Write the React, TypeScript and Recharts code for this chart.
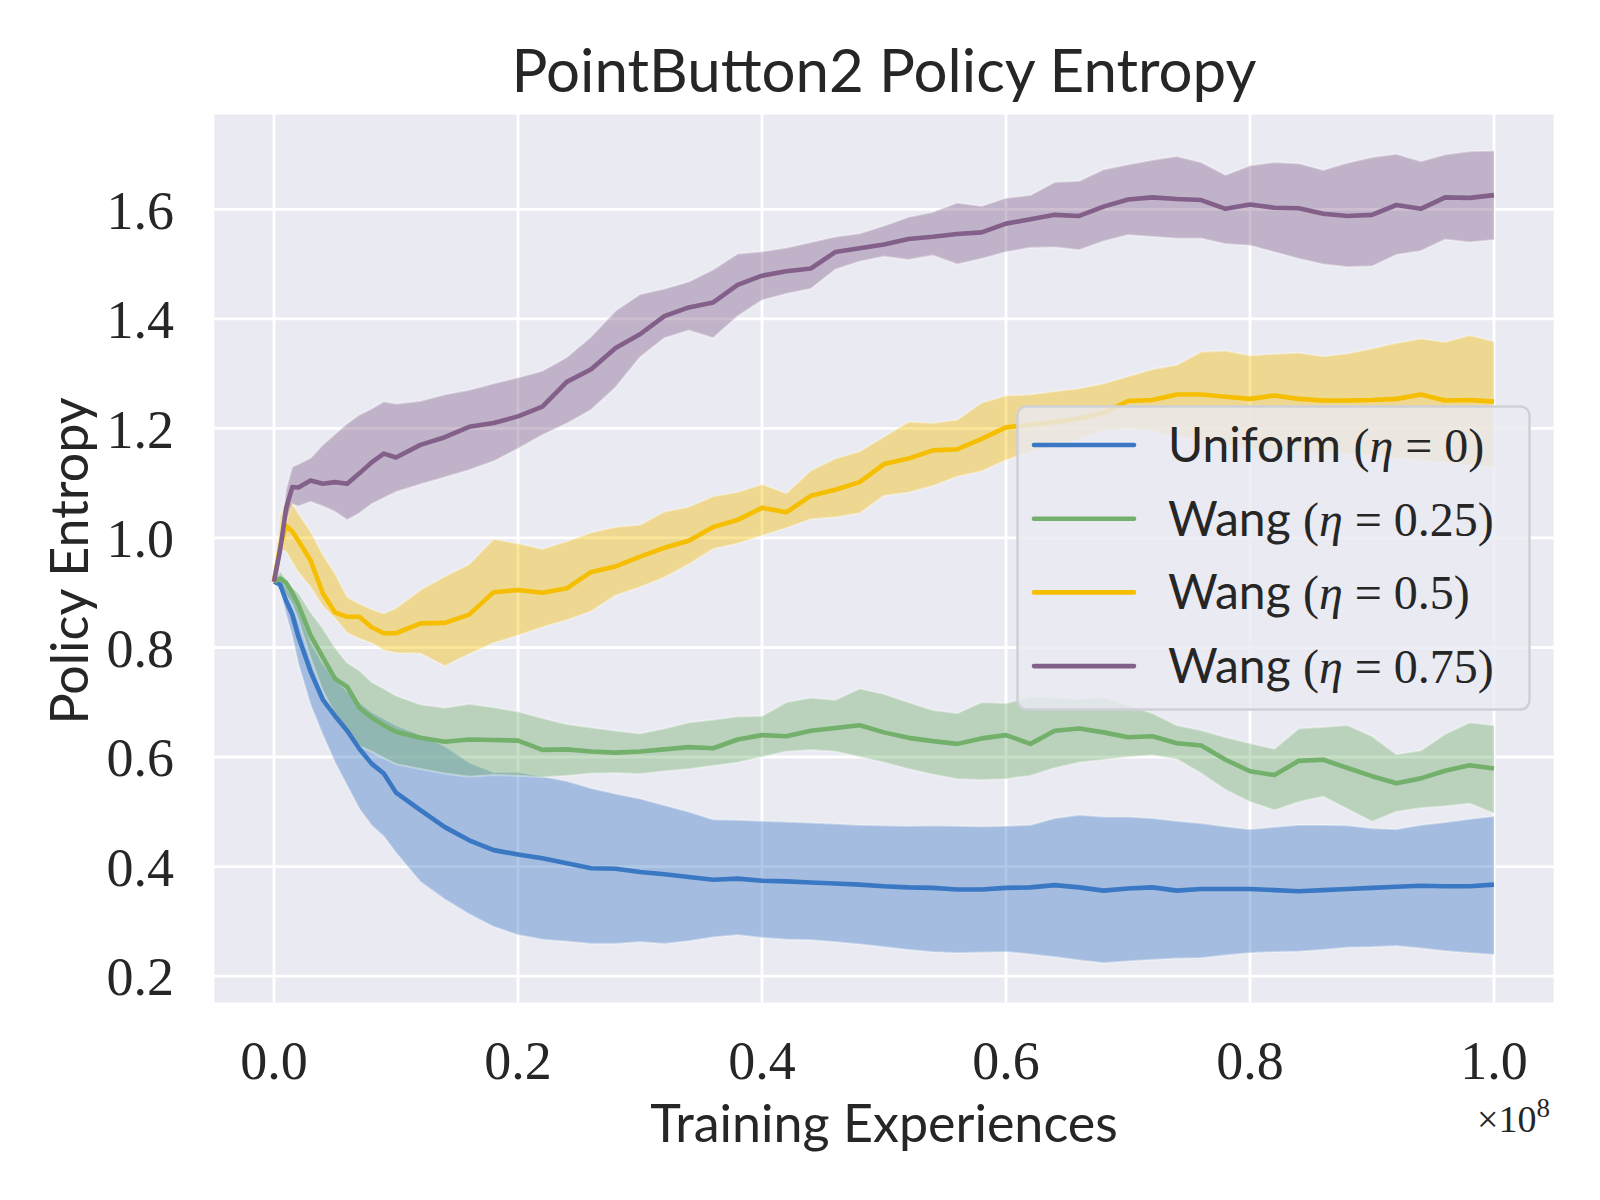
import { ComposedChart, Area, Line, XAxis, YAxis, CartesianGrid } from "recharts";

// training experiences (x 1e8)
const steps = [
  0, 0.005, 0.01, 0.015, 0.02, 0.03, 0.04, 0.05, 0.06, 0.07, 0.08, 0.09, 0.1,
  0.12, 0.14, 0.16, 0.18, 0.2, 0.22, 0.24, 0.26, 0.28, 0.3, 0.32, 0.34, 0.36, 0.38,
  0.4, 0.42, 0.44, 0.46, 0.48, 0.5, 0.52, 0.54, 0.56, 0.58, 0.6, 0.62, 0.64, 0.66,
  0.68, 0.7, 0.72, 0.74, 0.76, 0.78, 0.8, 0.82, 0.84, 0.86, 0.88, 0.9, 0.92, 0.94,
  0.96, 0.98, 1.0,
];

const uniformMean = [
  0.92, 0.915, 0.885, 0.86, 0.82, 0.756, 0.705, 0.675, 0.648, 0.615, 0.588, 0.57, 0.535,
  0.503, 0.472, 0.448, 0.43, 0.422, 0.415, 0.406, 0.397, 0.396, 0.39, 0.386, 0.381, 0.376, 0.378,
  0.374, 0.373, 0.371, 0.369, 0.367, 0.364, 0.362, 0.361, 0.358, 0.358, 0.361, 0.362, 0.366, 0.362,
  0.356, 0.36, 0.362, 0.356, 0.359, 0.359, 0.359, 0.357, 0.355, 0.357, 0.359, 0.361, 0.363, 0.365,
  0.364, 0.364, 0.367,
];
const uniformHigh = [
  0.92, 0.925, 0.91, 0.895, 0.87, 0.81, 0.77, 0.742, 0.72, 0.7, 0.682, 0.67, 0.658,
  0.64, 0.62, 0.59, 0.572, 0.572, 0.565, 0.556, 0.543, 0.533, 0.524, 0.512, 0.5, 0.486, 0.485,
  0.483, 0.482, 0.48, 0.478, 0.476, 0.475, 0.474, 0.475, 0.474, 0.473, 0.474, 0.476, 0.488, 0.494,
  0.491, 0.491, 0.488, 0.483, 0.479, 0.473, 0.468, 0.472, 0.476, 0.476, 0.475, 0.47, 0.468, 0.476,
  0.481, 0.487, 0.492,
];
const uniformLow = [
  0.92, 0.905, 0.86, 0.82, 0.77, 0.695, 0.64, 0.59, 0.547, 0.505, 0.475, 0.455, 0.425,
  0.372, 0.34, 0.313, 0.29, 0.275, 0.267, 0.263, 0.259, 0.259, 0.262, 0.259, 0.264, 0.271, 0.275,
  0.27, 0.267, 0.266, 0.262, 0.258, 0.253, 0.248, 0.244, 0.242, 0.243, 0.244, 0.24, 0.235, 0.229,
  0.224, 0.227, 0.23, 0.232, 0.233, 0.238, 0.242, 0.244, 0.245, 0.248, 0.252, 0.253, 0.255, 0.251,
  0.246, 0.242, 0.239,
];

const wang25Mean = [
  0.92, 0.926, 0.918, 0.9, 0.878, 0.822, 0.782, 0.743, 0.728, 0.69, 0.672, 0.658, 0.646,
  0.635, 0.628, 0.632, 0.631, 0.63, 0.613, 0.614, 0.61, 0.608, 0.61, 0.614, 0.618, 0.616, 0.632,
  0.64, 0.638, 0.648, 0.653, 0.658, 0.645, 0.635, 0.629, 0.624, 0.634, 0.64, 0.624, 0.648, 0.652,
  0.645, 0.636, 0.638, 0.625, 0.621, 0.595, 0.574, 0.567, 0.593, 0.595, 0.58, 0.565, 0.552, 0.561,
  0.575, 0.585, 0.579,
];
const wang25High = [
  0.92, 0.94, 0.925, 0.91, 0.9, 0.865, 0.835, 0.8, 0.772, 0.758, 0.737, 0.725, 0.712,
  0.696, 0.69, 0.697, 0.691, 0.683, 0.671, 0.66, 0.654, 0.648, 0.643, 0.652, 0.663, 0.668, 0.674,
  0.675, 0.7, 0.708, 0.704, 0.725, 0.715, 0.7, 0.686, 0.68, 0.7, 0.698, 0.71, 0.708, 0.706,
  0.709, 0.695, 0.68, 0.658, 0.649, 0.636, 0.625, 0.615, 0.652, 0.655, 0.658, 0.638, 0.605, 0.612,
  0.642, 0.663, 0.658,
];
const wang25Low = [
  0.92, 0.915, 0.895, 0.878, 0.85, 0.78, 0.72, 0.678, 0.65, 0.62, 0.61, 0.598, 0.587,
  0.578, 0.57, 0.564, 0.567, 0.566, 0.563, 0.566, 0.57, 0.571, 0.569, 0.574, 0.578, 0.584, 0.59,
  0.6, 0.61, 0.613, 0.61, 0.6, 0.59, 0.578, 0.568, 0.56, 0.558, 0.56, 0.566, 0.58, 0.59,
  0.595, 0.6, 0.603, 0.596, 0.57, 0.54, 0.518, 0.503, 0.518, 0.528, 0.505, 0.482, 0.5, 0.507,
  0.51, 0.515, 0.497,
];

const wang50Mean = [
  0.92, 0.985, 1.022, 1.012, 0.995, 0.959, 0.899, 0.864, 0.856, 0.856, 0.837, 0.826, 0.826,
  0.844, 0.845, 0.86, 0.901, 0.905, 0.9, 0.908, 0.938, 0.948, 0.966, 0.982, 0.995, 1.02, 1.033,
  1.055, 1.047, 1.077, 1.088, 1.102, 1.135, 1.145, 1.16, 1.162, 1.181, 1.202, 1.207, 1.212, 1.218,
  1.228, 1.25, 1.252, 1.262, 1.262, 1.258, 1.254, 1.26, 1.254, 1.251, 1.251, 1.252, 1.254, 1.262,
  1.251, 1.252, 1.249,
];
const wang50High = [
  0.92, 1.04, 1.07, 1.062, 1.045, 1.012, 0.97, 0.935, 0.892, 0.88, 0.87, 0.862, 0.872,
  0.905, 0.93, 0.952, 0.998, 0.99, 0.98, 0.994, 1.01, 1.02, 1.024, 1.048, 1.057, 1.076, 1.084,
  1.098, 1.082, 1.123, 1.145, 1.158, 1.185, 1.212, 1.21, 1.216, 1.247, 1.26, 1.262, 1.268, 1.273,
  1.282, 1.295, 1.308, 1.316, 1.34, 1.342, 1.333, 1.336, 1.338, 1.332, 1.337, 1.346, 1.356, 1.364,
  1.358, 1.37, 1.359,
];
const wang50Low = [
  0.92, 0.98, 0.975, 0.955, 0.937, 0.91, 0.875, 0.853, 0.826, 0.816, 0.808, 0.795, 0.79,
  0.789, 0.766, 0.788, 0.808, 0.822, 0.837, 0.85, 0.866, 0.895, 0.91, 0.928, 0.952, 0.98, 0.99,
  1.004, 1.018, 1.034, 1.038, 1.045, 1.077, 1.083, 1.095, 1.112, 1.122, 1.142, 1.157, 1.168, 1.18,
  1.195, 1.2, 1.195, 1.185, 1.178, 1.17, 1.163, 1.16, 1.158, 1.156, 1.153, 1.15, 1.146, 1.142,
  1.138, 1.133, 1.129,
];

const wang75Mean = [
  0.92, 0.978, 1.055, 1.093, 1.092, 1.105, 1.099, 1.102, 1.099, 1.118, 1.138, 1.154, 1.147,
  1.17, 1.184, 1.203, 1.21, 1.222, 1.24, 1.285, 1.308, 1.347, 1.372, 1.405, 1.421, 1.43, 1.462,
  1.479, 1.487, 1.492, 1.522, 1.529, 1.536, 1.546, 1.55, 1.555, 1.558, 1.574, 1.582, 1.59, 1.588,
  1.605, 1.618, 1.622, 1.619, 1.617, 1.601, 1.609, 1.603, 1.602, 1.592, 1.588, 1.59, 1.608, 1.601,
  1.622, 1.621, 1.626,
];
const wang75High = [
  0.92, 1.0, 1.09, 1.13, 1.135, 1.146, 1.17, 1.19, 1.209, 1.225, 1.236, 1.249, 1.245,
  1.25, 1.262, 1.27, 1.282, 1.293, 1.305, 1.33, 1.368, 1.415, 1.445, 1.455, 1.468, 1.49, 1.519,
  1.523, 1.53, 1.54, 1.55, 1.556, 1.57, 1.586, 1.595, 1.612, 1.606, 1.621, 1.626, 1.65, 1.652,
  1.673, 1.682, 1.69, 1.697, 1.686, 1.663, 1.68, 1.686, 1.684, 1.672, 1.685, 1.695, 1.701, 1.688,
  1.7, 1.706, 1.707,
];
const wang75Low = [
  0.92, 0.96, 1.03, 1.062, 1.058, 1.066, 1.058, 1.048, 1.033, 1.045, 1.062, 1.073, 1.084,
  1.098, 1.111, 1.124, 1.14, 1.163, 1.188, 1.209, 1.234, 1.275, 1.33, 1.365, 1.379, 1.365, 1.405,
  1.434, 1.446, 1.455, 1.49, 1.505, 1.514, 1.508, 1.516, 1.5, 1.51, 1.522, 1.53, 1.531, 1.526,
  1.542, 1.553, 1.55, 1.547, 1.547, 1.537, 1.534, 1.522, 1.51, 1.5, 1.495, 1.496, 1.517, 1.524,
  1.545, 1.54, 1.544,
];

const xTicks = [0, 0.2, 0.4, 0.6, 0.8, 1.0];
const yTicks = [0.2, 0.4, 0.6, 0.8, 1.0, 1.2, 1.4, 1.6];

const series = [
  { key: "uniform", name: "Uniform", eta: "0", color: "#3a78c4", mean: uniformMean, low: uniformLow, high: uniformHigh },
  { key: "wang25", name: "Wang", eta: "0.25", color: "#72b06c", mean: wang25Mean, low: wang25Low, high: wang25High },
  { key: "wang50", name: "Wang", eta: "0.5", color: "#f5be00", mean: wang50Mean, low: wang50Low, high: wang50High },
  { key: "wang75", name: "Wang", eta: "0.75", color: "#83608a", mean: wang75Mean, low: wang75Low, high: wang75High },
];

const rows = steps.map((x, i) => {
  const row: Record<string, number | number[]> = { x };
  series.forEach((s) => {
    row[s.key] = s.mean[i];
    row[s.key + "Band"] = [s.low[i], s.high[i]];
  });
  return row;
});

const SANS = "Lato, 'Open Sans', sans-serif";
const SERIF = "'Liberation Serif', 'DejaVu Serif', serif";
const INK = "#262626";

// legend box, drawn on the overlay above the plot
function LegendBox({ x, y }: { x: number; y: number }) {
  return (
    <g transform={`translate(${x}, ${y})`}>
      <rect x={1.5} y={1.5} width={512} height={303} rx={9} fill="#eaeaf2" fillOpacity={0.8} stroke="#cfcfd6" strokeWidth={2.5} />
      {series.map((s, i) => {
        const cy = 40 + i * 73.7;
        return (
          <g key={s.key}>
            <line x1={18} x2={118} y1={cy} y2={cy} stroke={s.color} strokeWidth={4.6} strokeLinecap="round" />
            <text x={152} y={cy + 17} fontSize={48} fill={INK}>
              <tspan fontFamily={SANS}>{s.name} </tspan>
              <tspan fontFamily={SERIF}>(</tspan>
              <tspan fontFamily={SERIF} fontStyle="italic">η</tspan>
              <tspan fontFamily={SERIF}>{" = " + s.eta + ")"}</tspan>
            </text>
          </g>
        );
      })}
    </g>
  );
}

export default function App() {
  return (
    <div style={{ position: "absolute", left: 0, top: 0, width: 1600, height: 1200, background: "#fff" }}>
      <ComposedChart width={1600} height={1200} data={rows} margin={{ top: 113, right: 45, bottom: 0, left: 0 }}>
        <CartesianGrid fill="#eaeaf2" stroke="#ffffff" strokeWidth={2.8} />
        <XAxis
          dataKey="x"
          type="number"
          domain={[-0.05, 1.05]}
          ticks={xTicks}
          tickFormatter={(v: number) => v.toFixed(1)}
          axisLine={false}
          tickLine={false}
          tickMargin={31}
          height={196}
          allowDataOverflow
          tick={{ fontSize: 54, fontFamily: SERIF, fill: INK }}
        />
        <YAxis
          type="number"
          domain={[0.149, 1.776]}
          ticks={yTicks}
          tickFormatter={(v: number) => v.toFixed(1)}
          axisLine={false}
          tickLine={false}
          tickMargin={33}
          width={213}
          allowDataOverflow
          tick={{ fontSize: 54, fontFamily: SERIF, fill: INK }}
        />
        {series.map((s) => (
          <Area
            key={s.key + "Band"}
            dataKey={s.key + "Band"}
            type="linear"
            fill={s.color}
            fillOpacity={0.4}
            stroke="#ffffff"
            strokeOpacity={0.35}
            strokeWidth={2}
            isAnimationActive={false}
            activeDot={false}
          />
        ))}
        {series.map((s) => (
          <Line
            key={s.key}
            dataKey={s.key}
            type="linear"
            stroke={s.color}
            strokeWidth={4.6}
            strokeLinejoin="round"
            dot={false}
            activeDot={false}
            isAnimationActive={false}
          />
        ))}
      </ComposedChart>
      <svg width={1600} height={1200} style={{ position: "absolute", left: 0, top: 0, pointerEvents: "none" }}>
        <LegendBox x={1016} y={405} />
        <text x={884} y={92} textAnchor="middle" fontFamily={SANS} fontSize={60} fill={INK}>
          PointButton2 Policy Entropy
        </text>
        <text x={884} y={1142} textAnchor="middle" fontFamily={SANS} fontSize={52} fill={INK}>
          Training Experiences
        </text>
        <text
          transform="translate(88, 561) rotate(-90)"
          textAnchor="middle"
          fontFamily={SANS}
          fontSize={52}
          fill={INK}
        >
          Policy Entropy
        </text>
        <text x={1550} y={1132} textAnchor="end" fontFamily={SERIF} fontSize={38} fill={INK}>
          ×10<tspan dy={-15} fontSize={27}>8</tspan>
        </text>
      </svg>
    </div>
  );
}
